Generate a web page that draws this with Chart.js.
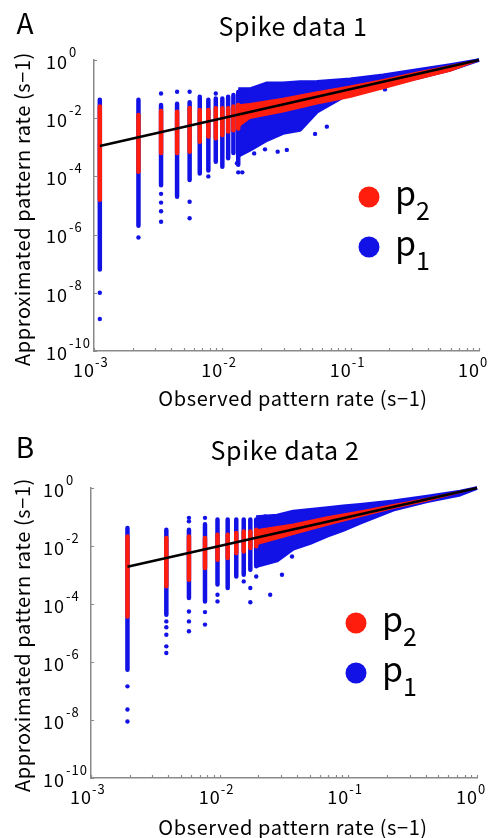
<!DOCTYPE html>
<html>
<head>
<meta charset="utf-8">
<script src="https://cdn.jsdelivr.net/npm/chart.js@4.4.1/dist/chart.umd.min.js"></script>
<style>
  html, body { margin: 0; padding: 0; background: #fff; }
  #wrap { position: relative; width: 494px; height: 838px; }
  canvas { position: absolute; left: 0; }
  #chartA { top: 0; }
  #chartB { top: 418px; }
</style>
</head>
<body>
<div id="wrap">
  <canvas id="chartA" width="494" height="418"></canvas>
  <canvas id="chartB" width="494" height="420"></canvas>
</div>
<script>
// ---- axis ticks (shared) ----
const xTickVals = [0.001, 0.01, 0.1, 1];
const xTickExp = ["-3", "-2", "-1", "0"];
const xMinorVals = [0.002, 0.003, 0.004, 0.005, 0.006, 0.007, 0.008, 0.009,
  0.02, 0.03, 0.04, 0.05, 0.06, 0.07, 0.08, 0.09,
  0.2, 0.3, 0.4, 0.5, 0.6, 0.7, 0.8, 0.9];
const yTickVals = [1, 1e-2, 1e-4, 1e-6, 1e-8, 1e-10];
const yTickExp = ["0", "-2", "-4", "-6", "-8", "-10"];

// ---- Spike data 1 (y values are log10 of the rate) ----
// vertical columns of points at low observed rates
const colXA = [0.00111, 0.00222, 0.00333, 0.00444, 0.00556, 0.00667, 0.00778, 0.00889, 0.0100, 0.0111, 0.0122, 0.0133];
const blueTopA = [-1.37, -1.37, -1.55, -1.5, -1.45, -1.26, -1.37, -1.32, -1.32, -1.26, -1.2, -1.1];
const blueBotA = [-7.2, -5.7, -4.3, -4.7, -4.12, -3.9, -3.8, -3.5, -3.67, -3.38, -3.2, -3.6];
const redTopA = [-1.6, -1.89, -1.75, -1.78, -1.65, -1.72, -1.72, -1.66, -1.66, -1.66, -1.6, -1.55];
const redBotA = [-4.8, -3.84, -3.2, -3.2, -3.15, -2.81, -2.63, -2.69, -2.58, -2.46, -2.41, -2.35];
// dense cloud at higher rates (upper / lower edge)
const cloudXA = [0.0133, 0.0164, 0.0223, 0.0297, 0.0403, 0.0547, 0.0989, 0.179, 0.33, 0.596, 1];
const cloudTopA = [-1.0, -1.0, -0.8, -0.8, -0.76, -0.75, -0.66, -0.52, -0.34, -0.17, 0];
const cloudBotA = [-3.3, -3.09, -2.75, -2.51, -2.41, -1.78, -1.13, -0.86, -0.62, -0.34, 0];
const bandXA = [0.0133, 0.0164, 0.0297, 0.0547, 0.0989, 0.179, 0.33, 0.596, 1];
const bandTopA = [-1.55, -1.5, -1.32, -1.1, -0.9, -0.68, -0.42, -0.2, 0];
const bandBotA = [-2.3, -2.0, -1.78, -1.5, -1.28, -0.98, -0.66, -0.38, 0];
// isolated p1 points
const outXA = [0.00111, 0.00111, 0.00222, 0.00333, 0.00333, 0.00333, 0.00333, 0.00333, 0.00444, 0.00556, 0.00556, 0.00556,
  0.00778, 0.00889, 0.0133, 0.0143, 0.013, 0.0177, 0.0215, 0.027, 0.0318, 0.0652, 0.0528, 0.185, 0.0133];
const outYA = [-8.0, -8.9, -6.1, -1.15, -4.6, -4.9, -5.2, -5.56, -1.09, -1.09, -4.87, -5.44,
  -4.0, -1.15, -3.86, -3.86, -3.55, -3.21, -3.07, -3.15, -3.09, -2.29, -2.54, -1.01, -3.15];
// identity line
const lineXA = [0.00111, 1];
const lineYA = [0.00111, 1];

// ---- Spike data 2 ----
const colXB = [0.00192, 0.00385, 0.00577, 0.00769, 0.00962, 0.01154, 0.01346, 0.01538, 0.01731, 0.01923];
const blueTopB = [-1.38, -1.44, -1.44, -1.25, -1.09, -1.09, -1.09, -1.09, -1.09, -1.09];
const blueBotB = [-6.27, -4.37, -3.79, -3.91, -3.33, -3.45, -3.05, -2.99, -2.82, -2.7];
const redTopB = [-1.67, -1.72, -1.67, -1.72, -1.61, -1.61, -1.55, -1.5, -1.5, -1.44];
const redBotB = [-4.43, -3.39, -3.16, -2.76, -2.47, -2.41, -2.24, -2.19, -2.07, -2.01];
const cloudXB = [0.0192, 0.028, 0.0373, 0.0506, 0.0686, 0.0912, 0.1236, 0.223, 0.41, 0.74, 1];
const cloudTopB = [-1.0, -0.95, -0.81, -0.75, -0.69, -0.63, -0.58, -0.46, -0.29, -0.12, 0];
const cloudBotB = [-2.7, -2.5, -2.1, -1.9, -1.65, -1.45, -1.2, -0.75, -0.46, -0.23, 0];
const bandXB = [0.0192, 0.0373, 0.0686, 0.1236, 0.223, 0.41, 1];
const bandTopB = [-1.45, -1.25, -1.0, -0.8, -0.58, -0.36, 0];
const bandBotB = [-1.95, -1.6, -1.28, -0.98, -0.7, -0.44, 0];
const outXB = [0.00192, 0.00192, 0.00192, 0.00385, 0.00385, 0.00385, 0.00385, 0.00385, 0.00577, 0.00577, 0.00577, 0.00577, 0.00577,
  0.00769, 0.00769, 0.00769, 0.00962, 0.00962, 0.01538, 0.01731, 0.01731, 0.01923, 0.0247, 0.0305, 0.0365, 0.0226];
const outYB = [-6.84, -7.64, -8.05, -4.6, -4.8, -5.06, -5.46, -5.69, -1.03, -1.15, -4.26, -4.6, -4.94,
  -1.03, -4.28, -4.71, -3.68, -3.91, -3.22, -3.45, -3.94, -3.05, -3.68, -2.99, -2.36, -0.98];
const lineXB = [0.00192, 1];
const lineYB = [0.00192, 1];

const FONT = '"Noto Sans CJK JP", "Noto Sans", sans-serif';
const RED = "#ff1e0e";
const BLUE = "#1212e6";
const AXIS = "#8a8a8a";

// columns as vertical strokes, broken by null gaps
function columns(xs, tops, bots) {
  const pts = [];
  xs.forEach((x, i) => {
    pts.push({ x: x, y: 10 ** bots[i] });
    pts.push({ x: x, y: 10 ** tops[i] });
    pts.push({ x: x, y: null });
  });
  return pts;
}

function edge(xs, ys) {
  return xs.map((x, i) => ({ x: x, y: 10 ** ys[i] }));
}

function buildDatasets(d) {
  const strip = { type: "line", pointRadius: 0, borderWidth: 4.5, borderCapStyle: "round", spanGaps: false, clip: false };
  const edgeStyle = { type: "line", pointRadius: 0, borderJoinStyle: "round", clip: false };
  return [
    { label: "line", type: "line", data: d.line, borderColor: "#000", borderWidth: 2.5, pointRadius: 0, clip: false },
    { label: "p2", data: d.redCols, borderColor: RED, ...strip },
    { label: "p2 band", data: d.bandTop, borderColor: RED, backgroundColor: RED, fill: "+1", borderWidth: 1.5, ...edgeStyle },
    { label: "p2 band low", data: d.bandBot, borderColor: RED, borderWidth: 1.5, ...edgeStyle },
    { label: "p1 loose", type: "line", data: d.out, showLine: false, pointRadius: 2.2, pointBackgroundColor: BLUE, pointBorderWidth: 0, clip: false },
    { label: "p1", data: d.blueCols, borderColor: BLUE, ...strip },
    { label: "p1 cloud", data: d.cloudTop, borderColor: BLUE, backgroundColor: BLUE, fill: "+1", borderWidth: 3.5, ...edgeStyle },
    { label: "p1 cloud low", data: d.cloudBot, borderColor: BLUE, borderWidth: 3.5, ...edgeStyle },
  ];
}

// draws titles, tick labels, tick marks, axis titles and legend
const decor = {
  id: "decor",
  afterDraw(chart, args, o) {
    const ctx = chart.ctx;
    const a = chart.chartArea;
    const xs = chart.scales.x;
    const ys = chart.scales.y;
    ctx.save();
    ctx.fillStyle = "#000";
    ctx.textBaseline = "middle";
    ctx.textAlign = "center";
    ctx.font = `28px ${FONT}`;
    ctx.fillText(o.letter, o.letterPos[0], o.letterPos[1]);
    ctx.font = `25px ${FONT}`;
    ctx.letterSpacing = "0.6px";
    ctx.fillText(o.title, o.titlePos[0], o.titlePos[1]);

    // ticks
    ctx.strokeStyle = AXIS;
    ctx.lineWidth = 1.2;
    ctx.beginPath();
    xTickVals.concat(xMinorVals).forEach((v) => {
      const px = Math.round(xs.getPixelForValue(v)) + 0.5;
      ctx.moveTo(px, a.bottom);
      ctx.lineTo(px, a.bottom - 3);
    });
    yTickVals.forEach((v) => {
      const py = Math.round(ys.getPixelForValue(v)) + 0.5;
      ctx.moveTo(a.left - 1, py);
      ctx.lineTo(a.left + 3, py);
    });
    ctx.stroke();

    // y tick labels
    ctx.letterSpacing = "1px";
    yTickVals.forEach((v, i) => {
      const py = ys.getPixelForValue(v);
      ctx.font = `18px ${FONT}`;
      ctx.textAlign = "right";
      ctx.fillText("10", a.left - 26, py + 2);
      ctx.font = `13px ${FONT}`;
      ctx.textAlign = "left";
      ctx.fillText(yTickExp[i], a.left - 25, py - 8);
    });
    // x tick labels
    xTickVals.forEach((v, i) => {
      const px = xs.getPixelForValue(v);
      ctx.font = `18px ${FONT}`;
      ctx.textAlign = "right";
      ctx.fillText("10", px + 1, a.bottom + 19);
      ctx.font = `13px ${FONT}`;
      ctx.textAlign = "left";
      ctx.fillText(xTickExp[i], px + 1, a.bottom + 11);
    });

    // axis titles
    ctx.font = `20px ${FONT}`;
    ctx.letterSpacing = "0.6px";
    ctx.textAlign = "center";
    ctx.fillText("Observed pattern rate (s\u22121)", o.xTitlePos[0], o.xTitlePos[1]);
    ctx.save();
    ctx.translate(o.yTitlePos[0], o.yTitlePos[1]);
    ctx.rotate(-Math.PI / 2);
    ctx.fillText("Approximated pattern rate (s\u22121)", 0, 0);
    ctx.restore();
    ctx.letterSpacing = "0px";

    // legend
    const items = [[RED, "2"], [BLUE, "1"]];
    items.forEach((it, i) => {
      const cx = o.legendPos[0];
      const cy = o.legendPos[1] + i * 50;
      ctx.fillStyle = it[0];
      ctx.beginPath();
      ctx.arc(cx, cy, 10.5, 0, Math.PI * 2);
      ctx.fill();
      ctx.fillStyle = "#000";
      ctx.textAlign = "left";
      ctx.textBaseline = "alphabetic";
      ctx.font = `34px ${FONT}`;
      ctx.fillText("p", cx + 26, cy + 9);
      ctx.font = `25px ${FONT}`;
      ctx.fillText(it[1], cx + 47, cy + 23);
      ctx.textBaseline = "middle";
    });
    ctx.restore();
  },
};

function makeChart(id, datasets, pad, decorOpts) {
  return new Chart(document.getElementById(id), {
    type: "line",
    data: { datasets: datasets },
    options: {
      responsive: false,
      animation: false,
      devicePixelRatio: 1,
      layout: { padding: pad },
      plugins: { legend: { display: false }, tooltip: { enabled: false }, decor: decorOpts },
      scales: {
        x: {
          type: "logarithmic", position: "bottom", min: 0.001, max: 1,
          ticks: { display: false }, grid: { display: false },
          border: { display: true, color: AXIS, width: 1.5 },
          afterFit: (s) => { s.height = 0; },
        },
        y: {
          type: "logarithmic", position: "left", min: 1e-10, max: 1,
          ticks: { display: false }, grid: { display: false },
          border: { display: true, color: AXIS, width: 1.5 },
          afterFit: (s) => { s.width = 0; },
        },
      },
    },
    plugins: [decor],
  });
}

makeChart("chartA", buildDatasets({
  line: edge(lineXA, lineYA.map(Math.log10)),
  redCols: columns(colXA, redTopA, redBotA),
  blueCols: columns(colXA, blueTopA, blueBotA),
  bandTop: edge(bandXA, bandTopA),
  bandBot: edge(bandXA, bandBotA),
  cloudTop: edge(cloudXA, cloudTopA),
  cloudBot: edge(cloudXA, cloudBotA),
  out: edge(outXA, outYA),
}), { left: 94, right: 15, top: 60, bottom: 67 }, {
  letter: "A", letterPos: [25, 23], title: "Spike data 1", titlePos: [293, 26],
  xTitlePos: [293, 398], yTitlePos: [22, 209], legendPos: [369, 197],
});

makeChart("chartB", buildDatasets({
  line: edge(lineXB, lineYB.map(Math.log10)),
  redCols: columns(colXB, redTopB, redBotB),
  blueCols: columns(colXB, blueTopB, blueBotB),
  bandTop: edge(bandXB, bandTopB),
  bandBot: edge(bandXB, bandBotB),
  cloudTop: edge(cloudXB, cloudTopB),
  cloudBot: edge(cloudXB, cloudBotB),
  out: edge(outXB, outYB),
}), { left: 91, right: 17, top: 70, bottom: 60 }, {
  letter: "B", letterPos: [25, 29], title: "Spike data 2", titlePos: [285, 32],
  xTitlePos: [293, 409], yTitlePos: [22, 217], legendPos: [356, 205],
});
</script>
</body>
</html>
